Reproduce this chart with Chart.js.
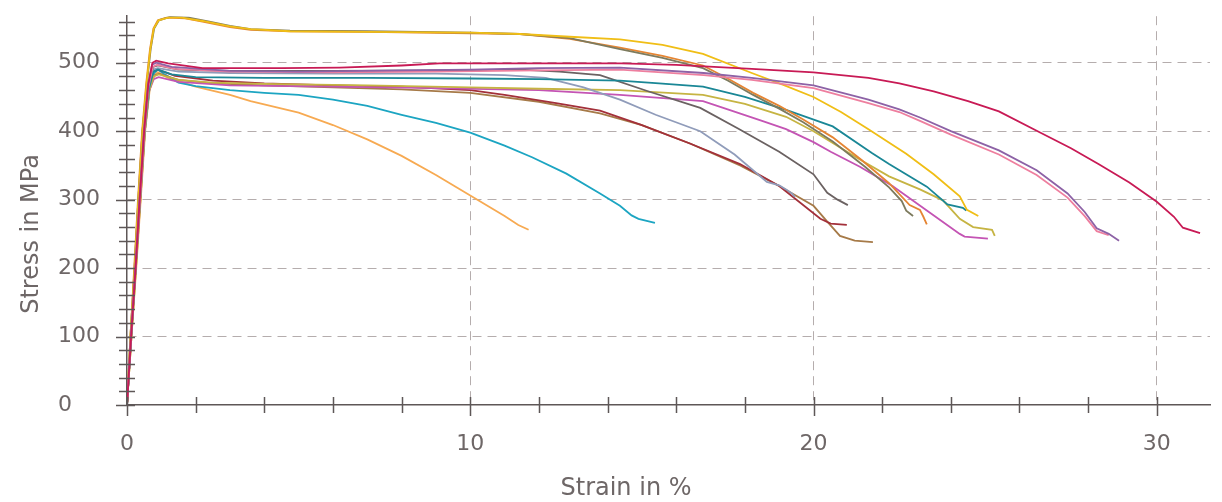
<!DOCTYPE html>
<html>
<head>
<meta charset="utf-8">
<script src="https://cdn.jsdelivr.net/npm/chart.js@4/dist/chart.umd.min.js"></script>
<style>
html, body { margin: 0; padding: 0; background: #fff; }
</style>
</head>
<body>
<canvas id="myChart" width="1222" height="502"></canvas>
<script>
// tick labels
const xTickLabels = [0, 10, 20, 30];
const yTickLabels = [0, 100, 200, 300, 400, 500];

// stress-strain curves, [strain %, stress MPa]
const yellow = [[0,0],[0.1,100],[0.22,200],[0.33,300],[0.45,400],[0.57,470],[0.68,520],[0.78,550],[0.92,562],[1.2,566],[1.6,566],[2.2,561],[3,553],[3.6,549],[4.75,546],[7,545],[10,544],[11.45,542],[12.9,538],[14.36,534],[15.6,526],[16.78,513],[18.2,485],[19.1,468],[20,450],[20.8,428],[21.6,403],[22.7,367],[23.5,337],[24.26,305],[24.47,285],[24.8,276]];
const orange = [[0,0],[0.1,100],[0.21,200],[0.32,300],[0.44,400],[0.56,470],[0.67,520],[0.77,550],[0.9,562],[1.15,566],[1.7,565],[2.2,560],[3,552],[3.6,548],[4.75,546],[7,545],[10,543],[11.45,542],[12.9,535],[14.36,522],[15.6,510],[16.78,496],[17.5,477],[18.24,456],[19,437],[19.7,417],[20.56,391],[21.4,358],[22.2,324],[22.8,292],[23.1,285],[23.2,275],[23.3,264]];
const olive = [[0,0],[0.1,100],[0.22,200],[0.33,300],[0.45,400],[0.58,470],[0.69,520],[0.79,550],[0.93,562],[1.25,567],[1.8,566],[2.4,560],[3,554],[3.6,549],[4.75,547],[7,546],[10,544],[11.45,542],[12.9,536],[14.36,520],[15.6,507],[16.78,492],[17.5,474],[18.24,453],[19,433],[19.7,413],[20.56,385],[21.5,348],[22.2,318],[22.57,298],[22.7,284],[22.9,276]];
const crimson = [[0,0],[0.12,100],[0.25,200],[0.37,300],[0.5,400],[0.62,468],[0.74,500],[0.85,503],[1.2,499],[2.2,492],[4.5,492],[6.2,493],[8,496],[9.1,499],[12,499],[14.4,499],[16,497],[18.2,491],[20,486],[21.6,478],[22.5,470],[23.5,458],[24.5,444],[25.4,429],[26.6,398],[27.5,375],[28.3,352],[29.2,325],[30,297],[30.5,275],[30.76,259],[31.26,251]];
const purple = [[0,0],[0.11,100],[0.24,200],[0.36,300],[0.49,400],[0.61,468],[0.73,497],[0.85,500],[1.3,494],[3,488],[5,487],[8,489],[10,490],[12,492],[14.36,493],[16.8,485],[18.2,478],[20,467],[21.6,446],[22.5,432],[23.1,420],[24,400],[25.4,372],[26.5,343],[27.4,309],[27.9,282],[28.25,258],[28.6,250],[28.9,240]];
const pink = [[0,0],[0.12,100],[0.25,200],[0.38,300],[0.51,400],[0.63,466],[0.75,494],[0.88,497],[1.4,491],[3,487],[6,486],[9,487],[12,489],[14.36,490],[16.8,482],[18.2,475],[20,463],[21.6,441],[22.5,428],[23.1,415],[24,395],[25.4,366],[26.5,336],[27.4,303],[27.9,276],[28.25,254],[28.6,248]];
const darkGray = [[0,0],[0.12,100],[0.25,200],[0.37,300],[0.5,400],[0.63,466],[0.76,494],[0.9,496],[1.5,490],[3,488],[6,488],[9,489],[11.45,490],[12.6,487],[13.78,482],[15.2,458],[16.7,434],[17.8,404],[19,370],[20,337],[20.4,310],[20.7,300],[21,292]];
const lightGray = [[0,0],[0.12,100],[0.25,200],[0.37,300],[0.5,400],[0.63,465],[0.76,490],[0.9,492],[1.5,487],[3,485],[6,484],[9,484],[11,482],[12.2,478],[13.3,464],[14.36,446],[15.4,424],[16.7,400],[17.7,366],[18.64,326],[19,321],[19.2,315],[19.37,309],[19.46,304]];
const teal = [[0,0],[0.12,100],[0.25,200],[0.38,300],[0.51,400],[0.64,462],[0.77,487],[0.9,490],[1.3,483],[2,479],[4,478],[7,478],[10,477],[12,476],[14.36,474],[15.5,470],[16.78,465],[18,450],[19.2,431],[20.56,407],[21.7,368],[22.2,352],[23.3,319],[23.9,293],[24.35,288],[24.45,284]];
const khaki = [[0,0],[0.13,100],[0.26,200],[0.39,300],[0.52,400],[0.65,460],[0.78,480],[0.92,483],[1.5,475],[2.5,471],[4,469],[7,467],[10,464],[12,462],[14.36,460],[16.78,453],[18,440],[19.2,421],[20,400],[21.3,360],[22.2,334],[23.1,315],[23.77,299],[24.26,272],[24.65,260],[25.2,256],[25.28,247]];
const magenta = [[0,0],[0.12,100],[0.25,200],[0.38,300],[0.51,400],[0.64,458],[0.78,476],[0.92,479],[1.5,472],[3,467],[6,465],[9,463],[12,460],[14.36,453],[16.78,444],[17.5,432],[18.5,415],[19.2,403],[20,384],[20.5,370],[21.35,348],[22.3,320],[23.3,284],[24.26,250],[24.4,246],[25.08,243]];
const darkRed = [[0,0],[0.12,100],[0.25,200],[0.38,300],[0.5,400],[0.63,465],[0.76,487],[0.9,490],[1.4,481],[2.5,474],[4,470],[6,467],[8,465],[10,460],[11,453],[12.5,441],[13.78,430],[14.94,410],[16.4,382],[17.86,352],[19,320],[20.2,272],[20.5,265],[20.97,263]];
const brown = [[0,0],[0.13,100],[0.26,200],[0.39,300],[0.52,400],[0.65,462],[0.79,481],[0.93,484],[1.5,475],[2.5,470],[4,467],[6,464],[8,461],[10,456],[12,443],[13.78,426],[15,409],[16.4,382],[17.86,350],[19,320],[20,291],[20.4,268],[20.77,247],[21.2,240],[21.73,238]];
const lightOrange = [[0,0],[0.13,100],[0.27,200],[0.4,300],[0.53,400],[0.66,460],[0.78,482],[0.9,486],[1.2,478],[2,465],[3,453],[3.6,444],[5,427],[6,409],[7,388],[8,364],[9,336],[10,306],[11,276],[11.4,263],[11.7,256]];
const cyan = [[0,0],[0.12,100],[0.25,200],[0.38,300],[0.52,400],[0.65,460],[0.79,485],[0.9,490],[1.1,483],[1.5,471],[2,466],[3,460],[4,456],[5,453],[6,446],[7,437],[8,424],[9,412],[10,398],[11,379],[11.8,362],[12.8,338],[13.78,309],[14.36,291],[14.7,277],[14.9,272],[15.38,266]];

const series = [
    [crimson, '#c81a55'],
    [purple, '#8d62a6'],
    [pink, '#ee7f9f'],
    [yellow, '#f0be16'],
    [olive, '#7d7b5e'],
    [orange, '#e58533'],
    [teal, '#1a8796'],
    [darkGray, '#6b6262'],
    [lightGray, '#909cba'],
    [khaki, '#c6b443'],
    [magenta, '#c454b4'],
    [darkRed, '#a3303a'],
    [brown, '#a67a48'],
    [cyan, '#1ca5c2'],
    [lightOrange, '#f7aa52']
];

const FONT = 'DejaVu Sans';
const textColor = '#6e6767';
const axisColor = '#5e5757';
const gridColor = '#b5adad';

// small cross ticks on both axes, like the original plot
const tickMarks = {
    id: 'tickMarks',
    afterDatasetsDraw(chart) {
        const { ctx, chartArea, scales } = chart;
        ctx.save();
        ctx.strokeStyle = axisColor;
        ctx.lineWidth = 1.5;
        ctx.beginPath();
        scales.x.ticks.forEach(t => {
            const px = Math.round(scales.x.getPixelForValue(t.value)) + 0.5;
            const major = xTickLabels.includes(t.value);
            ctx.moveTo(px, chartArea.bottom - 8);
            ctx.lineTo(px, chartArea.bottom + (major ? 11 : 8));
        });
        scales.y.ticks.forEach(t => {
            const py = Math.round(scales.y.getPixelForValue(t.value)) + 0.5;
            const major = yTickLabels.includes(t.value);
            ctx.moveTo(chartArea.left - (major ? 11 : 8), py);
            ctx.lineTo(chartArea.left + 8, py);
        });
        ctx.stroke();
        ctx.restore();
    }
};

// axis titles
const axisTitles = {
    id: 'axisTitles',
    afterDraw(chart) {
        const ctx = chart.ctx;
        ctx.save();
        ctx.fillStyle = textColor;
        ctx.font = '24px "' + FONT + '"';
        ctx.textAlign = 'center';
        ctx.textBaseline = 'middle';
        ctx.fillText('Strain in %', 626, 489);
        ctx.translate(32, 234);
        ctx.rotate(-Math.PI / 2);
        ctx.fillText('Stress in MPa', 0, 0);
        ctx.restore();
    }
};

const ctx = document.getElementById('myChart').getContext('2d');
const chart = new Chart(ctx, {
    type: 'line',
    data: {
        datasets: series.map(([pts, color]) => ({
            data: pts.map(p => ({ x: p[0], y: p[1] })),
            borderColor: color,
            borderWidth: 1.8,
            pointRadius: 0,
            tension: 0,
            fill: false
        }))
    },
    options: {
        responsive: false,
        animation: false,
        devicePixelRatio: 1,
        layout: { padding: { left: 58, right: 12, top: 10, bottom: 0 } },
        plugins: { legend: { display: false }, tooltip: { enabled: false } },
        scales: {
            x: {
                type: 'linear',
                min: 0,
                max: 31.55,
                afterFit: s => { s.height = 97; },
                ticks: {
                    stepSize: 2,
                    includeBounds: false,
                    autoSkip: false,
                    maxRotation: 0,
                    padding: 26,
                    color: textColor,
                    font: { family: FONT, size: 22 },
                    callback: v => xTickLabels.includes(v) ? v : ''
                },
                grid: {
                    drawTicks: false,
                    lineWidth: 1,
                    color: c => (c.tick && c.tick.value > 0 && xTickLabels.includes(c.tick.value)) ? gridColor : 'rgba(0,0,0,0)'
                },
                border: { color: axisColor, width: 1.5, dash: [9, 6] }
            },
            y: {
                type: 'linear',
                min: 0,
                max: 568,
                afterFit: s => { s.width = 69; },
                ticks: {
                    stepSize: 20,
                    includeBounds: false,
                    autoSkip: false,
                    crossAlign: 'far',
                    color: textColor,
                    font: { family: FONT, size: 22 },
                    callback: v => yTickLabels.includes(v) ? v : ''
                },
                grid: {
                    drawTicks: false,
                    lineWidth: 1,
                    color: c => (c.tick && c.tick.value > 0 && yTickLabels.includes(c.tick.value)) ? gridColor : 'rgba(0,0,0,0)'
                },
                border: { color: axisColor, width: 1.5, dash: [9, 6] }
            }
        }
    },
    plugins: [tickMarks, axisTitles]
});
</script>
</body>
</html>
